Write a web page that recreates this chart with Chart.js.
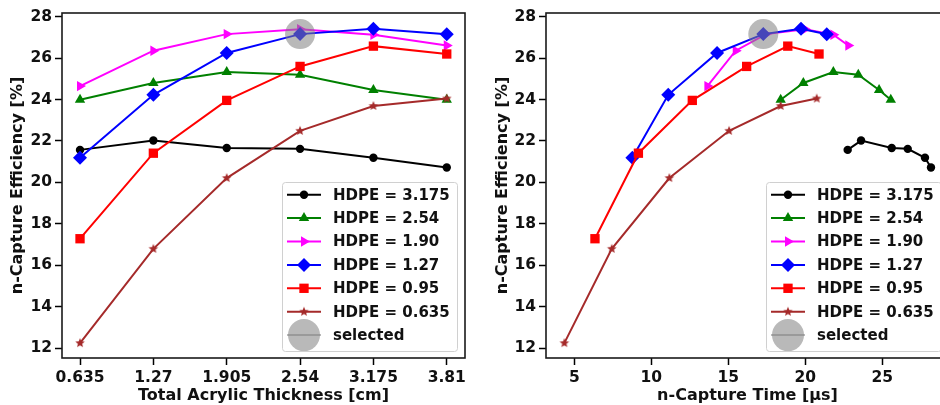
<!DOCTYPE html>
<html>
<head>
<meta charset="utf-8">
<script src="https://cdn.jsdelivr.net/npm/chart.js@4/dist/chart.umd.min.js"></script>
<style>
html, body { margin: 0; padding: 0; background: #fff; overflow: hidden; }
#wrap { position: relative; width: 940px; height: 405px; overflow: hidden; }
#left { position: absolute; left: 0; top: 0; }
#right { position: absolute; left: 470px; top: 0; }
</style>
</head>
<body>
<div id="wrap">
  <canvas id="left" width="470" height="405"></canvas>
  <canvas id="right" width="484" height="405"></canvas>
</div>
<script>
// Data
const thickness = [0.635, 1.27, 1.905, 2.54, 3.175, 3.81];
const thicknessLabels = ['0.635', '1.27', '1.905', '2.54', '3.175', '3.81'];
const hdpeLabels = ['HDPE = 3.175', 'HDPE = 2.54', 'HDPE = 1.90', 'HDPE = 1.27', 'HDPE = 0.95', 'HDPE = 0.635'];

// n-capture efficiency [%] per HDPE thickness
const eff3175 = [21.57, 22.02, 21.66, 21.62, 21.19, 20.72];
const eff254 = [23.99, 24.80, 25.33, 25.20, 24.46, 23.99];
const eff190 = [24.65, 26.36, 27.16, 27.40, 27.13, 26.61];
const eff127 = [21.19, 24.23, 26.25, 27.16, 27.42, 27.15];
const eff095 = [17.28, 21.41, 23.96, 25.60, 26.58, 26.20];
const eff0635 = [12.24, 16.79, 20.21, 22.49, 23.69, 24.05];

// n-capture time [us] per HDPE thickness
const time3175 = [22.75, 23.62, 25.61, 26.65, 27.77, 28.16];
const time254 = [18.40, 19.87, 21.82, 23.44, 24.79, 25.55];
const time190 = [13.64, 15.48, 17.45, 19.98, 21.82, 22.79];
const time127 = [8.77, 11.10, 14.27, 17.27, 19.72, 21.39];
const time095 = [6.34, 9.16, 12.66, 16.19, 18.86, 20.89];
const time0635 = [4.35, 7.43, 11.17, 15.05, 18.40, 20.74];

// the selected configuration
const selectedThickness = [2.54];
const selectedTime = [17.27];
const selectedEff = [27.16];

const yTicks = [12, 14, 16, 18, 20, 22, 24, 26, 28];
const timeTicks = [5, 10, 15, 20, 25];

const effs = [eff3175, eff254, eff190, eff127, eff095, eff0635];
const times = [time3175, time254, time190, time127, time095, time0635];

// styles
const colors = ['#000000', '#008000', '#ff00ff', '#0000ff', '#ff0000', '#a52a2a'];
const selColor = 'rgba(128,128,128,0.55)';
const FONT = "'DejaVu Sans', sans-serif";

function makeStar(r, color) {
    const c = document.createElement('canvas');
    const s = Math.ceil(r * 2 + 2);
    c.width = s; c.height = s;
    const g = c.getContext('2d');
    g.fillStyle = color;
    g.beginPath();
    for (let k = 0; k < 10; k++) {
        const rad = k % 2 ? r * 0.45 : r;
        const ang = -Math.PI / 2 + k * Math.PI / 5;
        g.lineTo(s / 2 + rad * Math.cos(ang), s / 2 + rad * Math.sin(ang));
    }
    g.closePath();
    g.fill();
    return c;
}

const markers = [
    { pointStyle: 'circle', radius: 4.2, rotation: 0 },
    { pointStyle: 'triangle', radius: 6, rotation: 0 },
    { pointStyle: 'triangle', radius: 6, rotation: 90 },
    { pointStyle: 'rectRot', radius: 7, rotation: 0 },
    { pointStyle: 'rect', radius: 6.6, rotation: 0 },
    { pointStyle: makeStar(5, '#a52a2a'), radius: 5, rotation: 0 }
];

function buildDatasets(xsFor, selX) {
    const sets = effs.map((ys, i) => ({
        label: hdpeLabels[i],
        data: ys.map((y, j) => ({ x: xsFor(i)[j], y })),
        borderColor: colors[i],
        backgroundColor: colors[i],
        borderWidth: 2,
        pointStyle: markers[i].pointStyle,
        pointRadius: markers[i].radius,
        pointRotation: markers[i].rotation,
        pointBorderWidth: 0,
        tension: 0,
        order: 10 - i
    }));
    sets.push({
        label: 'selected',
        data: selX.map((x, j) => ({ x, y: selectedEff[j] })),
        showLine: false,
        backgroundColor: selColor,
        borderColor: selColor,
        pointRadius: 15,
        pointBorderWidth: 0,
        order: 0
    });
    return sets;
}

// frame around the axes + legend box in the lower right
const framePlugin = {
    id: 'frameLegend',
    afterDraw(chart) {
        const { ctx, chartArea: a } = chart;
        ctx.save();
        ctx.beginPath();
        ctx.rect(a.left, a.top, a.right - a.left, a.bottom - a.top);
        ctx.clip();

        const lx = a.left + 220, ly = a.top + 169, w = 175, h = 169;
        ctx.fillStyle = 'rgba(255,255,255,0.85)';
        ctx.strokeStyle = '#d0d0d0';
        ctx.lineWidth = 1;
        ctx.beginPath();
        ctx.roundRect(lx + 0.5, ly + 0.5, w, h, 3);
        ctx.fill();
        ctx.stroke();

        ctx.font = 'bold 15px ' + FONT;
        ctx.textBaseline = 'middle';
        ctx.textAlign = 'left';
        const rows = hdpeLabels.length + 1;
        for (let i = 0; i < rows; i++) {
            const cy = ly + 12.7 + i * 23.4;
            const isSel = i === hdpeLabels.length;
            const col = isSel ? selColor : colors[i];
            ctx.strokeStyle = col;
            ctx.fillStyle = col;
            ctx.lineWidth = 2;
            ctx.beginPath();
            ctx.moveTo(lx + 5, cy);
            ctx.lineTo(lx + 39, cy);
            ctx.stroke();
            const m = isSel ? { pointStyle: 'circle', radius: 16, rotation: 0 } : markers[i];
            Chart.helpers.drawPoint(ctx, { pointStyle: m.pointStyle, radius: m.radius, rotation: m.rotation, borderWidth: 0 }, lx + 22, cy);
            ctx.fillStyle = '#111';
            ctx.fillText(isSel ? 'selected' : hdpeLabels[i], lx + 51, cy + 1);
        }
        ctx.restore();

        ctx.save();
        ctx.strokeStyle = '#1a1a1a';
        ctx.lineWidth = 1.6;
        ctx.strokeRect(a.left, a.top, a.right - a.left, a.bottom - a.top);
        ctx.restore();
    }
};

function axisOpts(min, max, ticks, labelFn, title, extra) {
    return Object.assign({
        type: 'linear',
        min, max,
        afterBuildTicks: s => { s.ticks = ticks.map(v => ({ value: v })); },
        grid: { display: true, drawOnChartArea: false, drawTicks: true, tickLength: 7, tickColor: '#000', tickWidth: 1.5 },
        border: { display: false },
        ticks: {
            callback: labelFn,
            color: '#111',
            font: { family: FONT, size: 15.5, weight: 'bold' },
            maxRotation: 0,
            autoSkip: false
        },
        title: {
            display: true,
            text: title,
            color: '#111',
            font: { family: FONT, size: 16, weight: 'bold' }
        }
    }, extra);
}

// pin the axis box size so the plot area matches the reference
function fixX(s) {
    s.height = 47;
    s.paddingLeft = 0;
    s.paddingRight = 0;
}

function makeChart(id, datasets, xScale, yTitlePad, yWidth) {
    return new Chart(document.getElementById(id), {
        type: 'line',
        data: { datasets },
        options: {
            responsive: false,
            animation: false,
            layout: { autoPadding: false, padding: { top: 13, right: 5, left: 0, bottom: 0 } },
            plugins: { legend: { display: false }, tooltip: { enabled: false } },
            scales: {
                x: xScale,
                y: (() => {
                    const y = axisOpts(11.52, 28.18, yTicks, v => String(v), 'n-Capture Efficiency [%]',
                        { afterFit: s => { s.width = yWidth; s.paddingTop = 0; s.paddingBottom = 0; } });
                    y.ticks.padding = 3;
                    y.title.padding = { top: yTitlePad, bottom: 0 };
                    return y;
                })()
            }
        },
        plugins: [framePlugin]
    });
}

const xLeft = axisOpts(0.479, 3.968, thickness,
    v => thicknessLabels[thickness.indexOf(v)], 'Total Acrylic Thickness [cm]',
    { afterFit: fixX });
xLeft.ticks.padding = 4;
xLeft.title.padding = { top: 0, bottom: 0 };

const xRight = axisOpts(3.16, 29.33, timeTicks, v => String(v), 'n-Capture Time [\u00b5s]',
    { afterFit: fixX });
xRight.ticks.padding = 4;
xRight.title.padding = { top: 0, bottom: 0 };

makeChart('left', buildDatasets(() => thickness, selectedThickness), xLeft, 8.4, 62);
makeChart('right', buildDatasets(i => times[i], selectedTime), xRight, 23, 76);
</script>
</body>
</html>
